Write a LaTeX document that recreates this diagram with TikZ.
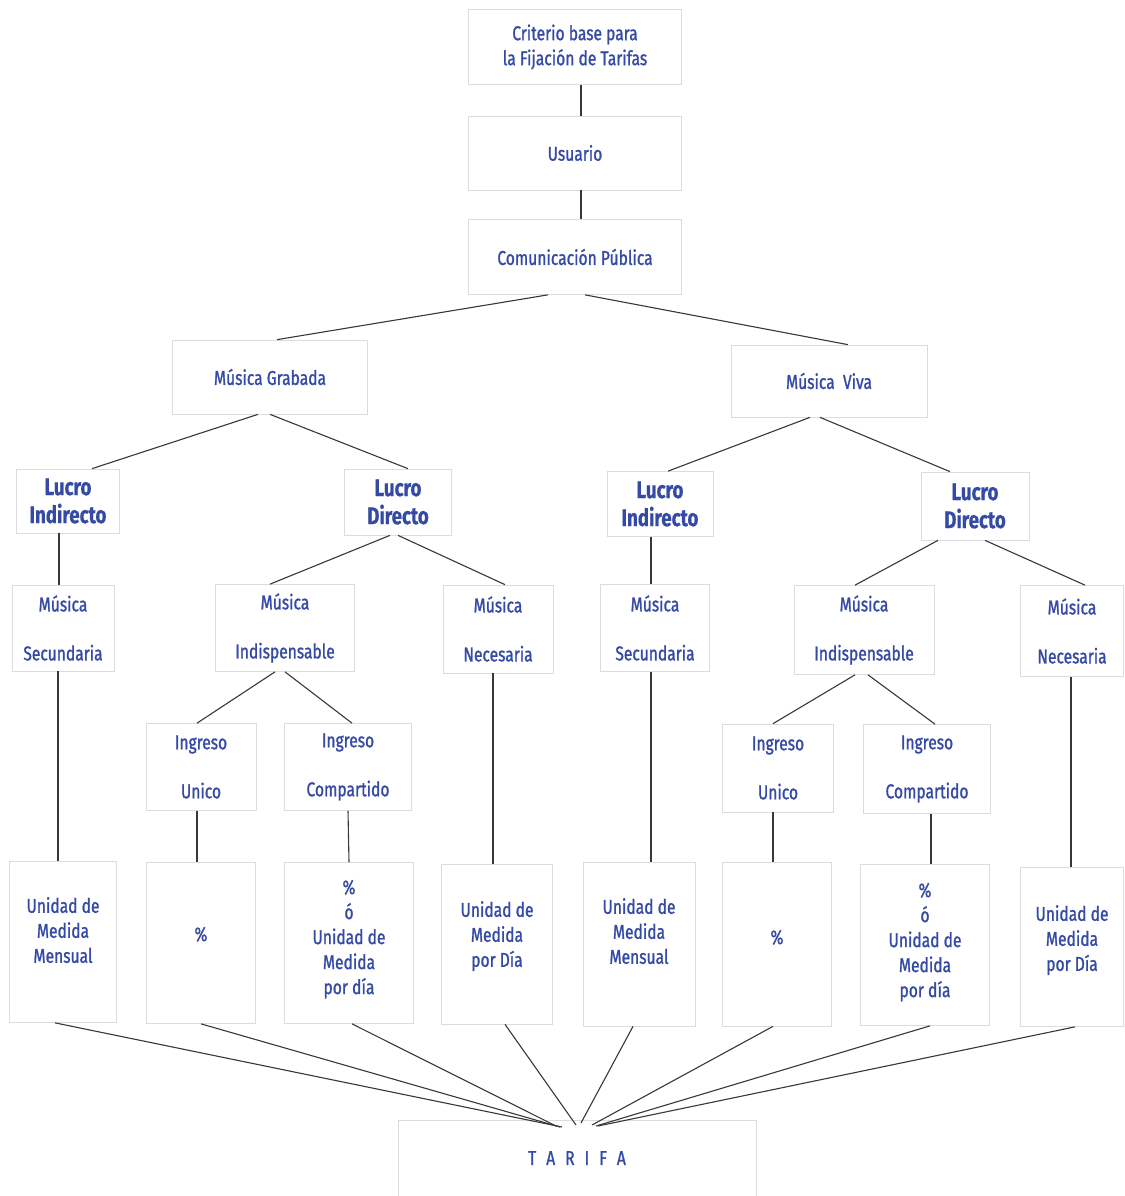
\documentclass[tikz,border=0pt]{standalone}
\usepackage{fontspec}
\setmainfont[FakeStretch=0.78, FakeBold=1.2, BoldFeatures={FakeBold=0.6}]{Fira Sans}
\usetikzlibrary{calc}
\definecolor{txtblue}{RGB}{52,74,165}
\definecolor{boxgray}{RGB}{220,220,224}
\definecolor{linegray}{RGB}{55,55,60}
\tikzset{
	box/.style={draw=boxgray, line width=0.7pt, text=txtblue, align=center, inner sep=0pt, font=\fontsize{20}{25}\selectfont},
	boldbox/.style={box, font=\fontsize{24}{28}\selectfont\bfseries},
	link/.style={draw=linegray, line width=1.1pt},
}

\begin{document}
\begin{tikzpicture}[x=1pt, y=-1pt]
		%%%%% START %%%%%
		\useasboundingbox (0,0) rectangle (1124,1196);
		
		% top column
		\node[box, minimum width=213pt, minimum height=75pt] (crit) at (575,47) {Criterio base para\\la Fijación de Tarifas};
		\node[box, minimum width=213pt, minimum height=74pt] (usu) at (575,153) {Usuario};
		\node[box, minimum width=213pt, minimum height=75pt] (com) at (575,257) {Comunicación Pública};
		
		\node[box, minimum width=195pt, minimum height=74pt] (grab) at (270,377) {Música Grabada};
		\node[box, minimum width=196pt, minimum height=72pt] (viva) at (829,381) {Música~ Viva};
		
		% lucro
		\node[boldbox, minimum width=103pt, minimum height=64pt] (lindL) at (68,501) {Lucro\\Indirecto};
		\node[boldbox, minimum width=107pt, minimum height=66pt] (ldirL) at (398,502) {Lucro\\Directo};
		\node[boldbox, minimum width=106pt, minimum height=65pt] (lindR) at (660,504) {Lucro\\Indirecto};
		\node[boldbox, minimum width=108pt, minimum height=68pt] (ldirR) at (975,506) {Lucro\\Directo};
		
		% musica
		\node[box, minimum width=102pt, minimum height=86pt] (msecL) at (63,628) {Música\\[24pt]Secundaria};
		\node[box, minimum width=139pt, minimum height=87pt] (mindL) at (285,628) {Música\\[24pt]Indispensable};
		\node[box, minimum width=110pt, minimum height=88pt] (mnecL) at (498,629) {Música\\[24pt]Necesaria};
		\node[box, minimum width=109pt, minimum height=87pt] (msecR) at (655,628) {Música\\[24pt]Secundaria};
		\node[box, minimum width=140pt, minimum height=89pt] (mindR) at (864,630) {Música\\[24pt]Indispensable};
		\node[box, minimum width=103pt, minimum height=91pt] (mnecR) at (1072,631) {Música\\[24pt]Necesaria};
		
		% ingreso
		\node[box, minimum width=110pt, minimum height=87pt] (iuniL) at (201,767) {Ingreso\\[24pt]Unico};
		\node[box, minimum width=127pt, minimum height=87pt] (icomL) at (348,767) {Ingreso\\[24pt]Compartido};
		\node[box, minimum width=111pt, minimum height=88pt] (iuniR) at (778,768) {Ingreso\\[24pt]Unico};
		\node[box, minimum width=127pt, minimum height=89pt] (icomR) at (927,769) {Ingreso\\[24pt]Compartido};
		
		% unidades (trailing empty line lifts the text a little)
		\node[box, minimum width=107pt, minimum height=161pt] (umL) at (63,942) {Unidad de\\Medida\\Mensual\\[-1pt]\mbox{}};
		\node[box, minimum width=109pt, minimum height=161pt] (pctL) at (201,943) {\%\\[-7pt]\mbox{}};
		\node[box, minimum width=129pt, minimum height=161pt] (pcL) at (349,943) {\%\\ó\\Unidad de\\Medida\\por día\\[-13pt]\mbox{}};
		\node[box, minimum width=111pt, minimum height=160pt] (udL) at (497,944) {Unidad de\\Medida\\por Día\\[-5pt]\mbox{}};
		\node[box, minimum width=112pt, minimum height=164pt] (umR) at (639,944) {Unidad de\\Medida\\Mensual\\[1pt]\mbox{}};
		\node[box, minimum width=109pt, minimum height=164pt] (pctR) at (777,944) {\%\\[-11pt]\mbox{}};
		\node[box, minimum width=129pt, minimum height=161pt] (pcR) at (925,945) {\%\\ó\\Unidad de\\Medida\\por día\\[-15pt]\mbox{}};
		\node[box, minimum width=103pt, minimum height=159pt] (udR) at (1072,947) {Unidad de\\Medida\\por Día\\[-7pt]\mbox{}};
		
		\node[box, minimum width=358pt, minimum height=76pt] (tar) at (577,1158) {T\hspace{10pt}A\hspace{10pt}R\hspace{10pt}I\hspace{10pt}F\hspace{10pt}A};
		
		% links
		\draw[link] ([xshift=6pt]crit.south) -- ([xshift=6pt]usu.north);
		\draw[link] ([xshift=6pt]usu.south) -- ([xshift=6pt]com.north);
		\draw[link] ([xshift=-27pt]com.south) -- ([xshift=7pt]grab.north);
		\draw[link] ([xshift=10pt]com.south) -- ([xshift=19pt]viva.north);
		
		\draw[link] ([xshift=-12pt]grab.south) -- ([xshift=24pt]lindL.north);
		\draw[link] (grab.south) -- ([xshift=10pt]ldirL.north);
		\draw[link] ([xshift=-19pt]viva.south) -- ([xshift=8pt]lindR.north);
		\draw[link] ([xshift=-9pt]viva.south) -- ([xshift=-25pt]ldirR.north);
		
		\draw[link] ([xshift=-9pt]lindL.south) -- ([xshift=-4pt]msecL.north);
		\draw[link] ([xshift=-8pt]ldirL.south) -- ([xshift=-15pt]mindL.north);
		\draw[link] (ldirL.south) -- ([xshift=7pt]mnecL.north);
		\draw[link] ([xshift=-9pt]lindR.south) -- ([xshift=-4pt]msecR.north);
		\draw[link] ([xshift=-37pt]ldirR.south) -- ([xshift=-9pt]mindR.north);
		\draw[link] ([xshift=10pt]ldirR.south) -- ([xshift=13pt]mnecR.north);
		
		\draw[link] ([xshift=-10pt]mindL.south) -- ([xshift=-4pt]iuniL.north);
		\draw[link] (mindL.south) -- ([xshift=4pt]icomL.north);
		\draw[link] ([xshift=-9pt]mindR.south) -- ([xshift=-5pt]iuniR.north);
		\draw[link] ([xshift=4pt]mindR.south) -- ([xshift=8pt]icomR.north);
		
		\draw[link] ([xshift=-5pt]msecL.south) -- ([xshift=-5pt]umL.north);
		\draw[link] ([xshift=-4pt]iuniL.south) -- ([xshift=-4pt]pctL.north);
		\draw[link] (icomL.south) -- (pcL.north);
		\draw[link] ([xshift=-5pt]mnecL.south) -- ([xshift=-4pt]udL.north);
		\draw[link] ([xshift=-4pt]msecR.south) -- ([xshift=12pt]umR.north);
		\draw[link] ([xshift=-5pt]iuniR.south) -- ([xshift=-4pt]pctR.north);
		\draw[link] ([xshift=4pt]icomR.south) -- ([xshift=6pt]pcR.north);
		\draw[link] ([xshift=-1pt]mnecR.south) -- ([xshift=-1pt]udR.north);
		
		% to tarifa
		\coordinate (t1) at (562,1127);
		\coordinate (t2) at (560,1127);
		\coordinate (t3) at (556,1126);
		\coordinate (t4) at (576,1125);
		\coordinate (t5) at (581,1123);
		\coordinate (t6) at (592,1125);
		\coordinate (t7) at (596,1126);
		\coordinate (t8) at (598,1126);
		\draw[link] ([xshift=-8pt]umL.south) -- (t1);
		\draw[link] (pctL.south) -- (t2);
		\draw[link] ([xshift=3pt]pcL.south) -- (t3);
		\draw[link] ([xshift=8pt]udL.south) -- (t4);
		\draw[link] ([xshift=-6pt]umR.south) -- (t5);
		\draw[link] ([xshift=-4pt]pctR.south) -- (t6);
		\draw[link] ([xshift=5pt]pcR.south) -- (t7);
		\draw[link] ([xshift=3pt]udR.south) -- (t8);
		
		%%%%% END %%%%%
\end{tikzpicture}
\end{document}
